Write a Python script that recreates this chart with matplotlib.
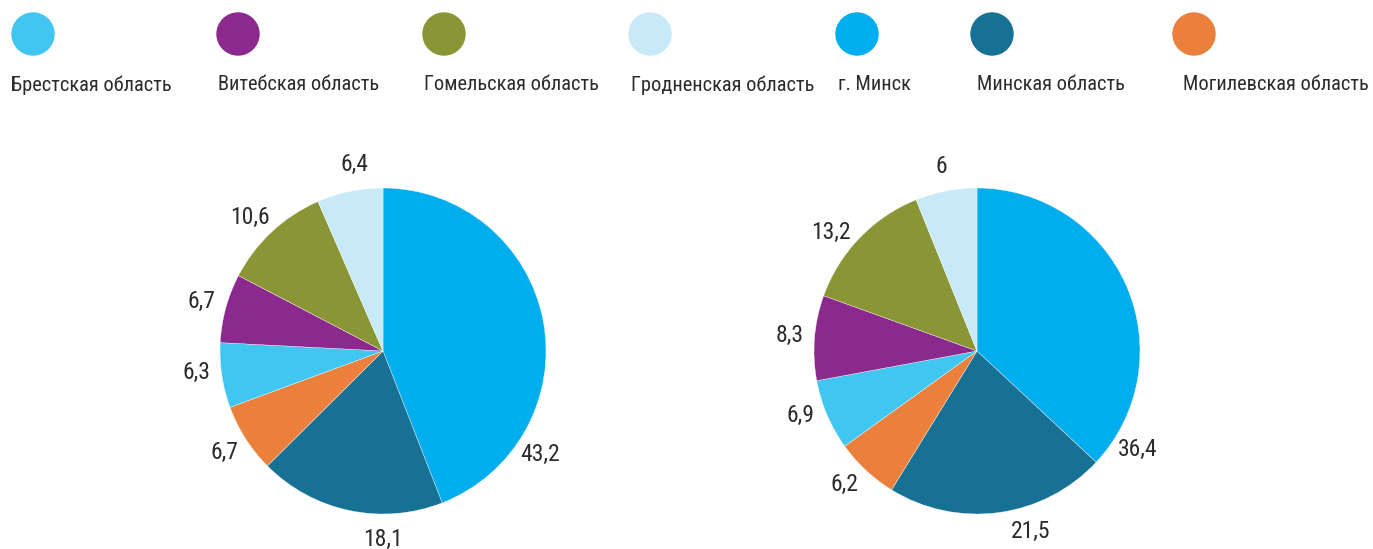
import matplotlib
matplotlib.use("Agg")
import matplotlib.pyplot as plt
import numpy as np
from matplotlib import font_manager
from matplotlib.patches import Circle

# pick a condensed-looking font if one is around
names = set(f.name for f in font_manager.fontManager.ttflist)
font = "Roboto"
for cand in ["Liberation Sans Narrow", "Roboto Condensed", "Open Sans Condensed", "Roboto"]:
    if cand in names:
        font = cand
        break
plt.rcParams["font.family"] = [font, "DejaVu Sans"]

regions = ["Брестская область", "Витебская область", "Гомельская область",
           "Гродненская область", "г. Минск", "Минская область",
           "Могилевская область"]
colors = ["#41C6F2", "#8C298E", "#8A9535", "#C7E9F8", "#00AEEF", "#177195", "#EA803B"]

# slice order in the pies (clockwise from 12 o'clock)
pie_order = ["г. Минск", "Минская область", "Могилевская область",
             "Брестская область", "Витебская область", "Гомельская область",
             "Гродненская область"]
left_values = [43.2, 18.1, 6.7, 6.3, 6.7, 10.6, 6.4]
left_labels = ["43,2", "18,1", "6,7", "6,3", "6,7", "10,6", "6,4"]
right_values = [36.4, 21.5, 6.2, 6.9, 8.3, 13.2, 6.0]
right_labels = ["36,4", "21,5", "6,2", "6,9", "8,3", "13,2", "6"]

# label angle tweaks (degrees) to mimic the original label placement
left_shift = [-44, 12, 0, -2, 0, 2, -3]
right_shift = [-55, 9, -2, -3, 0, 5, 0]

W, H = 1373, 549
R = 163
fig = plt.figure(figsize=(W / 100, H / 100), dpi=100)
txt = "#2b2b2b"


def draw_pie(cx, cy, values, labels, shift):
    ax = fig.add_axes([(cx - R) / W, 1 - (cy + R) / H, 2 * R / W, 2 * R / H])
    cols = [colors[regions.index(n)] for n in pie_order]
    wedges, _ = ax.pie(values, colors=cols, startangle=90, counterclock=False,
                       radius=1, wedgeprops=dict(edgecolor="white", linewidth=0.25))
    ax.set_xlim(-1, 1)
    ax.set_ylim(-1, 1)
    ax.set_aspect("equal")
    ax.axis("off")
    for w, lab, s in zip(wedges, labels, shift):
        ang = np.deg2rad((w.theta1 + w.theta2) / 2 + s)
        r = 1.155
        ax.text(r * np.cos(ang), r * np.sin(ang), lab, ha="center", va="center",
                fontsize=17, color=txt, clip_on=False)


draw_pie(383, 351, left_values, left_labels, left_shift)
draw_pie(977, 351, right_values, right_labels, right_shift)

# legend: circle above the name
leg = fig.add_axes([0, 0, 1, 1])
leg.set_xlim(0, W)
leg.set_ylim(H, 0)
leg.axis("off")
circle_x = [33, 238, 444, 650, 857, 992, 1194]
label_x = [11, 218, 424, 631, 838, 977, 1183]
for name, c, cx, lx in zip(regions, colors, circle_x, label_x):
    leg.add_patch(Circle((cx, 34), 21.7, color=c, lw=0))
    leg.text(lx, 85, name, ha="left", va="center", fontsize=14.7, color=txt)

fig.savefig("out.png", dpi=100)
